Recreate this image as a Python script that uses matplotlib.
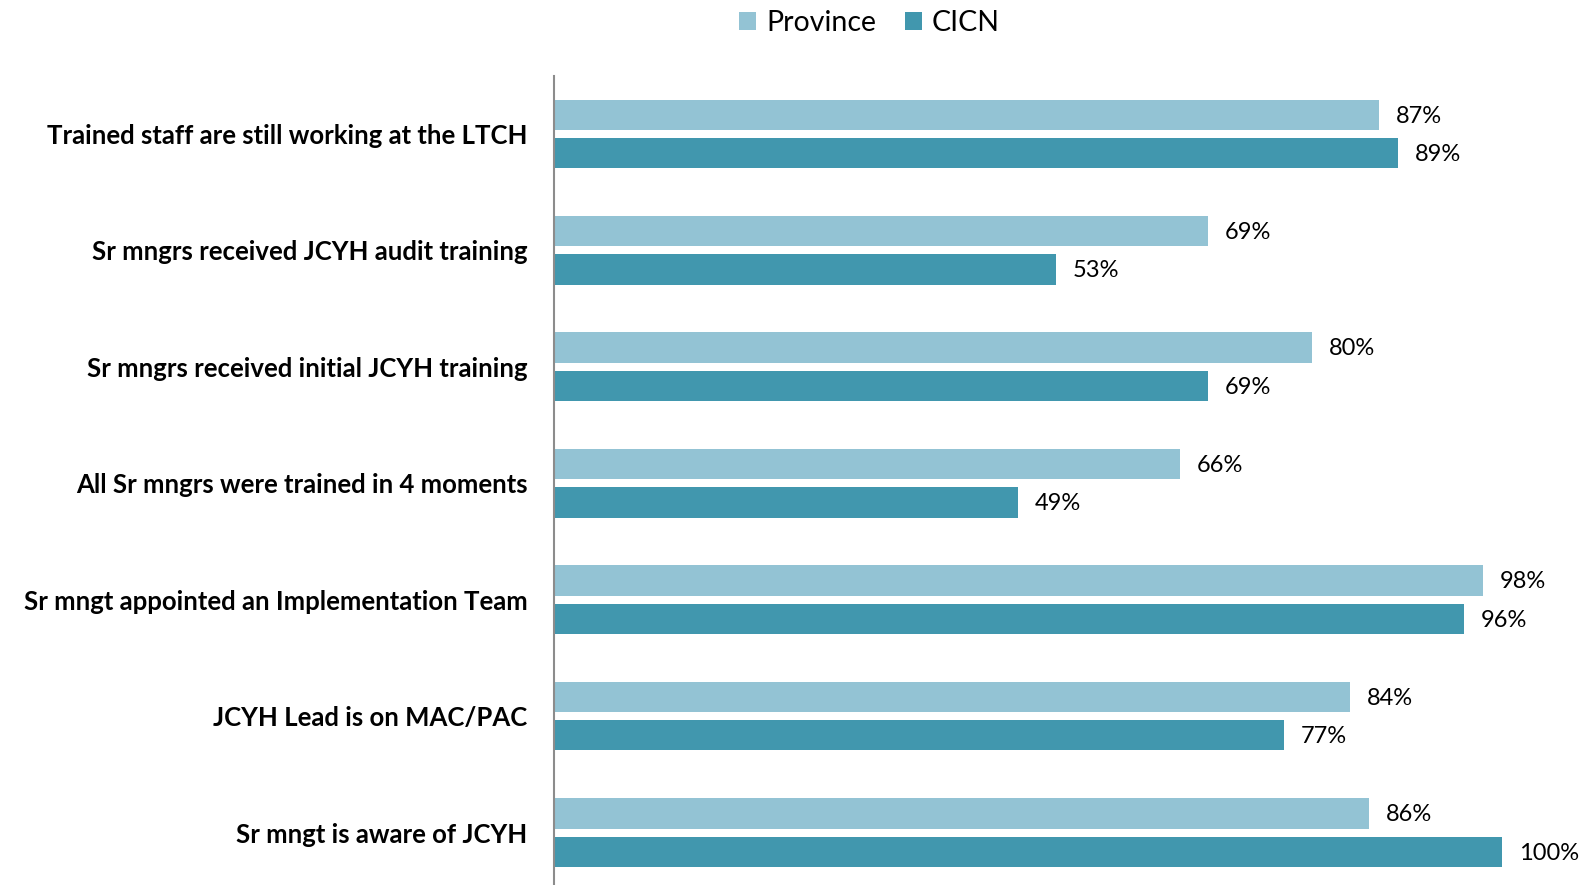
import matplotlib.pyplot as plt
import numpy as np

categories = ["Trained staff are still working at the LTCH",
              "Sr mngrs received JCYH audit training",
              "Sr mngrs received initial JCYH training",
              "All Sr mngrs were trained in 4 moments",
              "Sr mngt appointed an Implementation Team",
              "JCYH Lead is on MAC/PAC",
              "Sr mngt is aware of JCYH"]
province = [87, 69, 80, 66, 98, 84, 86]
cicn = [89, 53, 69, 49, 96, 77, 100]

plt.rcParams['font.family'] = ['Lato', 'DejaVu Sans']

fig = plt.figure(figsize=(15.87, 8.85), dpi=100)
ax = fig.add_axes([0.349, 0.0, 0.5975, 0.9145])

y = np.arange(len(categories))
h = 0.26
off = 0.165
b1 = ax.barh(y - off, province, height=h, color='#93C3D4', label='Province')
b2 = ax.barh(y + off, cicn, height=h, color='#4197AE', label='CICN')

for bars, vals in [(b1, province), (b2, cicn)]:
    for bar, v in zip(bars, vals):
        ax.annotate(f"{v}%", (bar.get_width(), bar.get_y() + bar.get_height() / 2),
                    xytext=(12, -1), textcoords='offset points', va='center', ha='left',
                    fontsize=17, clip_on=False, annotation_clip=False)

ax.set_xlim(0, 100)
ax.set_ylim(6.45, -0.5)
ax.set_yticks(y)
ax.set_yticklabels(categories, fontsize=18.5, fontweight='bold')
ax.tick_params(axis='y', length=0, pad=19)
ax.set_xticks([])
for s in ['top', 'right', 'bottom']:
    ax.spines[s].set_visible(False)
ax.spines['left'].set_color('#8c8c8c')
ax.spines['left'].set_linewidth(1.5)

fig.legend(handles=[b1, b2], labels=['Province', 'CICN'], loc='upper center',
           bbox_to_anchor=(0.548, 1.018), ncol=2, frameon=False, fontsize=20.5,
           handlelength=0.6, handleheight=0.6, handletextpad=0.35, columnspacing=1.0)

fig.savefig('out.png', dpi=100)
